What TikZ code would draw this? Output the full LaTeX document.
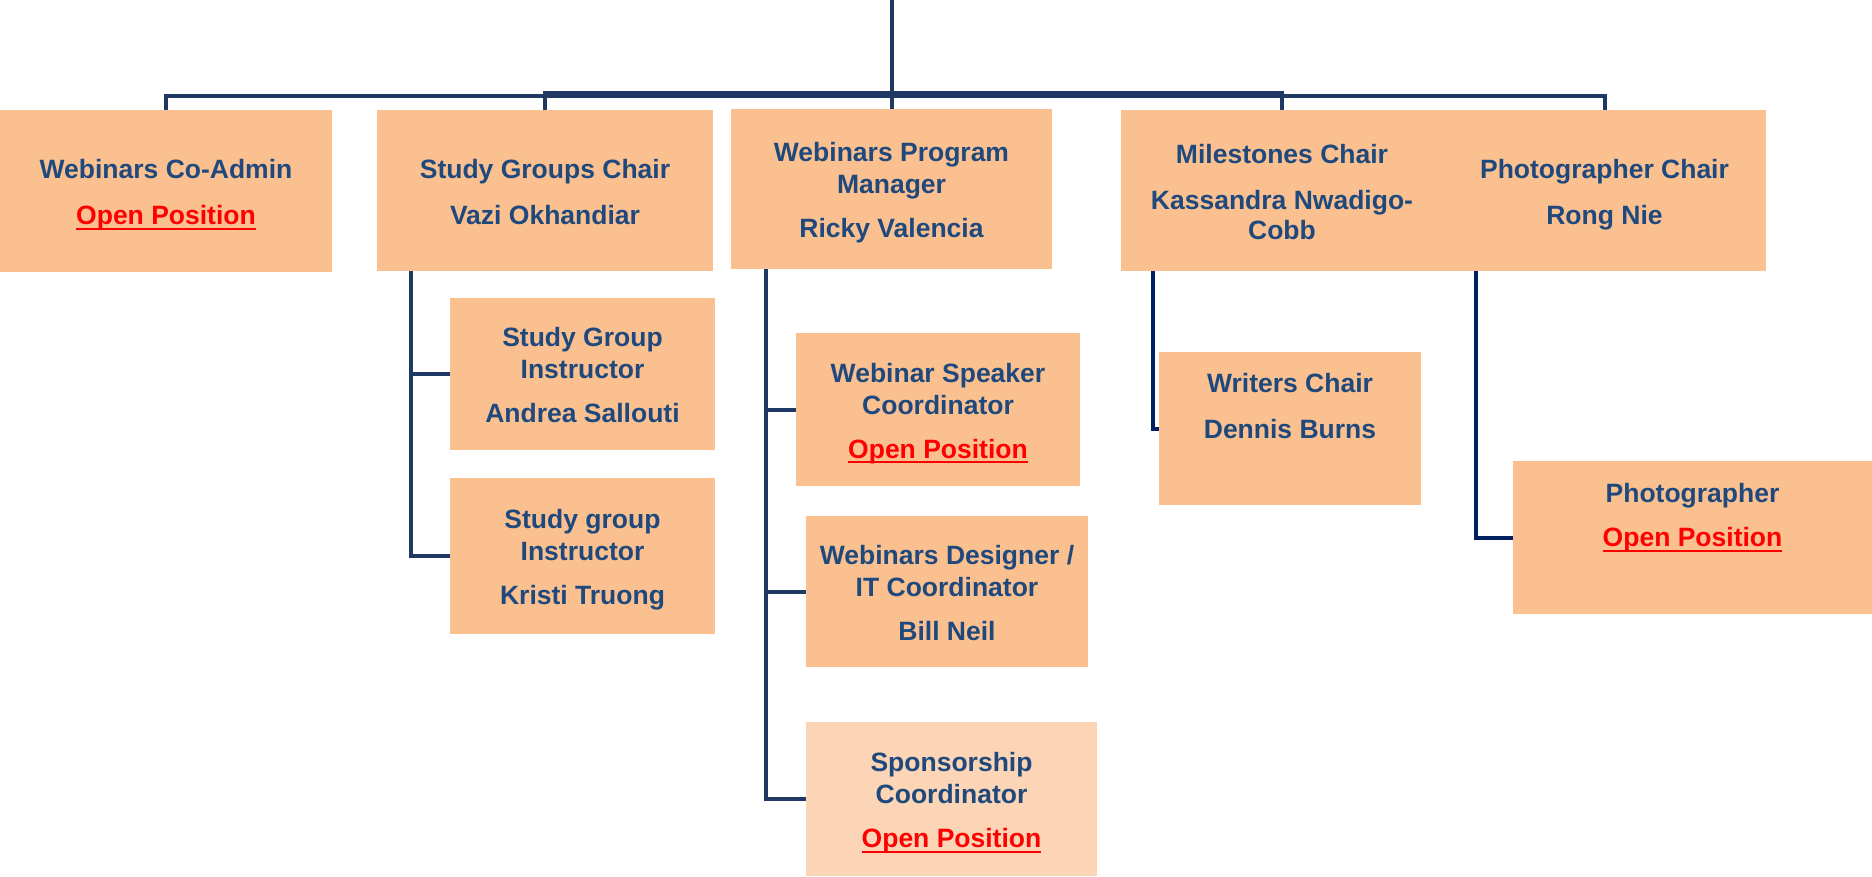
\documentclass[tikz,border=0pt]{standalone}
\usepackage{fontspec}
\setmainfont{Liberation Sans}
\definecolor{peach}{HTML}{FAC090}
\definecolor{peachlight}{HTML}{FBD5B5}
\definecolor{titleblue}{HTML}{1F497D}
\definecolor{linenavy}{HTML}{1F3864}
\definecolor{linedark}{HTML}{002060}
\definecolor{openred}{HTML}{FF0000}
\newcommand\OpenPos{{\color{openred}\setbox0\hbox{Open Position}\rlap{\rule[-5pt]{\wd0}{1.8pt}}\box0}}
\newcommand\TopS{\rule{0pt}{27.4pt}}
\newcommand\BotS{\rule[-6pt]{0pt}{6pt}}
\tikzset{
  orgbox/.style={fill=peach, text=titleblue, font=\bfseries\fontsize{26.5}{32}\selectfont,
    align=center, inner sep=0pt, outer sep=0pt},
  conn/.style={draw=linenavy, line width=4pt},
  conndark/.style={draw=linedark, line width=4pt},
}
\begin{document}
\begin{tikzpicture}[x=1pt, y=-1pt]
\useasboundingbox (0,0) rectangle (1872,876);

% top level
\node[orgbox, minimum width=332pt, minimum height=162pt] (coadmin) at (166,191)
  {\TopS Webinars Co-Admin\\[14pt]\OpenPos\BotS};
\node[orgbox, minimum width=336pt, minimum height=161pt] (sgchair) at (545,190.5)
  {\TopS Study Groups Chair\\[14pt]Vazi Okhandiar\BotS};
\node[orgbox, minimum width=321pt, minimum height=160pt] (wpm) at (891.5,189)
  {\TopS Webinars Program\\Manager\\[12pt]Ricky Valencia\BotS};
\node[orgbox, minimum width=322pt, minimum height=161pt] (milestones) at (1282,190.5)
  {\TopS Milestones Chair\\[14pt]Kassandra Nwadigo-\\[-2pt]Cobb\BotS};
\node[orgbox, minimum width=323pt, minimum height=161pt] (photochair) at (1604.5,190.5)
  {\TopS Photographer Chair\\[14pt]Rong Nie\BotS};

% study groups
\node[orgbox, minimum width=265pt, minimum height=152pt] (sgi1) at (582.5,374)
  {\TopS Study Group\\Instructor\\[12pt]Andrea Sallouti\BotS};
\node[orgbox, minimum width=265pt, minimum height=156pt] (sgi2) at (582.5,556)
  {\TopS Study group\\Instructor\\[12pt]Kristi Truong\BotS};

% webinars
\node[orgbox, minimum width=284pt, minimum height=153pt] (wsc) at (938,409.5)
  {\TopS Webinar Speaker\\Coordinator\\[12pt]\OpenPos\BotS};
\node[orgbox, minimum width=282pt, minimum height=151pt] (wdes) at (947,591.5)
  {\TopS Webinars Designer /\\IT Coordinator\\[12pt]Bill Neil\BotS};
\node[orgbox, fill=peachlight, minimum width=291pt, minimum height=154pt] (spons) at (951.5,799)
  {\TopS Sponsorship\\Coordinator\\[12pt]\OpenPos\BotS};

% milestones / photographer
\node[orgbox, minimum width=262pt, minimum height=153pt] (writers) at (1290,428.5)
  {Writers Chair\\[14pt]Dennis Burns\\[13pt]\mbox{}};
\node[orgbox, minimum width=359pt, minimum height=153pt] (photog) at (1692.5,537.5)
  {Photographer\\[12pt]\OpenPos\\[13pt]\mbox{}};

% connectors
\coordinate (top) at (891.5,0);
\draw[conn] (top) -- (wpm.north);
\draw[conn] (top) -- ++(0,96) -| (coadmin.north);
\draw[conn] (top) -- ++(0,93) -| (sgchair.north);
\draw[conn] (top) -- ++(0,93) -| (milestones.north);
\draw[conn] (top) -- ++(0,96) -| (photochair.north);

\coordinate (sgtrunk) at (411,271);
\draw[conn] (sgtrunk) |- (sgi1.west);
\draw[conn] (sgtrunk) |- (sgi2.west);

\coordinate (wtrunk) at (766,269);
\draw[conn] (wtrunk) |- (wsc.west);
\draw[conn] (wtrunk) |- (wdes.west);
\draw[conn] (wtrunk) |- (spons.west);

\coordinate (mtrunk) at (1153,271);
\draw[conndark] (mtrunk) |- (writers.west);

\coordinate (ptrunk) at (1476,271);
\draw[conndark] (ptrunk) |- (photog.west);
\end{tikzpicture}
\end{document}
